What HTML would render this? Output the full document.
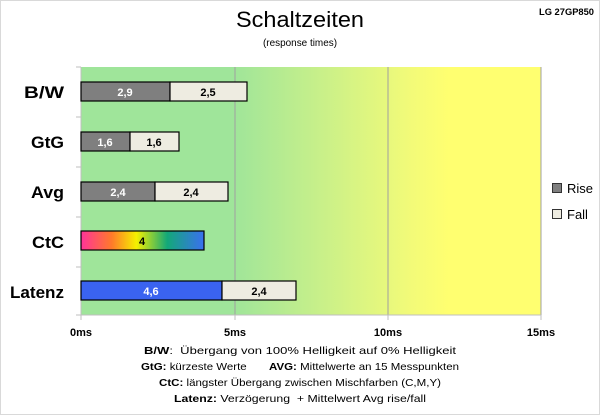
<!DOCTYPE html>
<html><head><meta charset="utf-8"><style>
html,body{margin:0;padding:0;background:#fff}
svg{display:block;font-family:"Liberation Sans",sans-serif}
</style></head><body>
<svg width="600" height="415" viewBox="0 0 600 415" xmlns="http://www.w3.org/2000/svg">
<defs>
<linearGradient id="bg" x1="81" x2="541" y1="0" y2="0" gradientUnits="userSpaceOnUse">
<stop offset="0" stop-color="#9fe59a"/>
<stop offset="0.33" stop-color="#9fe59a"/>
<stop offset="0.72" stop-color="#f3fb78"/>
<stop offset="0.8" stop-color="#ffff70"/>
<stop offset="1" stop-color="#ffff70"/>
</linearGradient>
<linearGradient id="ctc" x1="0" x2="1" y1="0" y2="0">
<stop offset="0" stop-color="#ff3399"/>
<stop offset="0.25" stop-color="#ff7a2a"/>
<stop offset="0.45" stop-color="#f5f000"/>
<stop offset="0.7" stop-color="#13a878"/>
<stop offset="1" stop-color="#3a70f0"/>
</linearGradient>
</defs>
<rect x="0.5" y="0.5" width="599" height="414" fill="#fff" stroke="#d9d9d9"/>
<text x="300" y="27" font-size="22" text-anchor="middle" fill="#000" textLength="128" lengthAdjust="spacingAndGlyphs">Schaltzeiten</text>
<text x="300" y="46" font-size="10" text-anchor="middle" textLength="74" lengthAdjust="spacingAndGlyphs">(response times)</text>
<text x="594" y="15" font-size="9" font-weight="bold" text-anchor="end" textLength="55" lengthAdjust="spacingAndGlyphs">LG 27GP850</text>
<rect x="81" y="67" width="460" height="248" fill="url(#bg)"/>
<g stroke="#a0a0a0" stroke-width="1">
<line x1="235" y1="67" x2="235" y2="315"/>
<line x1="388" y1="67" x2="388" y2="315"/>
<line x1="541" y1="67" x2="541" y2="315"/>
</g>
<g stroke="#bfbfbf" stroke-width="1">
<line x1="81" y1="67" x2="81" y2="320"/>
<line x1="76" y1="67" x2="81" y2="67"/>
<line x1="76" y1="117" x2="81" y2="117"/>
<line x1="76" y1="167" x2="81" y2="167"/>
<line x1="76" y1="217" x2="81" y2="217"/>
<line x1="76" y1="267" x2="81" y2="267"/>
<line x1="76" y1="315" x2="541" y2="315"/>
<line x1="235" y1="315" x2="235" y2="320"/>
<line x1="388" y1="315" x2="388" y2="320"/>
<line x1="541" y1="315" x2="541" y2="320"/>
</g>
<g font-size="17" font-weight="bold" text-anchor="end">
<text x="64" y="98" textLength="40" lengthAdjust="spacingAndGlyphs">B/W</text>
<text x="64" y="148" textLength="33" lengthAdjust="spacingAndGlyphs">GtG</text>
<text x="64" y="198" textLength="33" lengthAdjust="spacingAndGlyphs">Avg</text>
<text x="64" y="248" textLength="32" lengthAdjust="spacingAndGlyphs">CtC</text>
<text x="64" y="298" textLength="54" lengthAdjust="spacingAndGlyphs">Latenz</text>
</g>
<g stroke="#000" stroke-width="1.2">
<rect x="81" y="82" width="89" height="19" fill="#7f7f7f"/>
<rect x="170" y="82" width="77" height="19" fill="#eeece1"/>
<rect x="81" y="132" width="49" height="19" fill="#7f7f7f"/>
<rect x="130" y="132" width="49" height="19" fill="#eeece1"/>
<rect x="81" y="182" width="74" height="19" fill="#7f7f7f"/>
<rect x="155" y="182" width="73" height="19" fill="#eeece1"/>
<rect x="81" y="231" width="123" height="19" fill="url(#ctc)"/>
<rect x="81" y="281" width="141" height="19" fill="#3a63f0"/>
<rect x="222" y="281" width="74" height="19" fill="#eeece1"/>
</g>
<g font-size="11" font-weight="bold" text-anchor="middle">
<text x="125" y="96" fill="#fff">2,9</text>
<text x="208" y="96">2,5</text>
<text x="105" y="146" fill="#fff">1,6</text>
<text x="154" y="146">1,6</text>
<text x="118" y="196" fill="#fff">2,4</text>
<text x="191" y="196">2,4</text>
<text x="142" y="245">4</text>
<text x="151" y="295" fill="#fff">4,6</text>
<text x="259" y="295">2,4</text>
</g>
<rect x="552.5" y="183.5" width="9" height="9" fill="#7f7f7f" stroke="#333"/>
<rect x="552.5" y="209.5" width="9" height="9" fill="#eeece1" stroke="#333"/>
<text x="567" y="193" font-size="13">Rise</text>
<text x="567" y="219" font-size="13">Fall</text>
<g font-size="11" font-weight="bold" text-anchor="middle">
<text x="81" y="336">0ms</text>
<text x="235" y="336">5ms</text>
<text x="388" y="336">10ms</text>
<text x="541" y="336">15ms</text>
</g>
<g font-size="10.5" text-anchor="middle">
<text x="300" y="354" textLength="312" lengthAdjust="spacingAndGlyphs"><tspan font-weight="bold">B/W</tspan>:&#160; Übergang von 100% Helligkeit auf 0% Helligkeit</text>
<text x="300" y="370" textLength="318" lengthAdjust="spacingAndGlyphs"><tspan font-weight="bold">GtG:</tspan> kürzeste Werte&#160;&#160;&#160;&#160;&#160;&#160; <tspan font-weight="bold">AVG:</tspan> Mittelwerte an 15 Messpunkten</text>
<text x="300" y="386" textLength="282" lengthAdjust="spacingAndGlyphs"><tspan font-weight="bold">CtC:</tspan> längster Übergang zwischen Mischfarben (C,M,Y)</text>
<text x="300" y="402" textLength="252" lengthAdjust="spacingAndGlyphs"><tspan font-weight="bold">Latenz:</tspan> Verzögerung&#160; + Mittelwert Avg rise/fall</text>
</g>
</svg>
</body></html>
